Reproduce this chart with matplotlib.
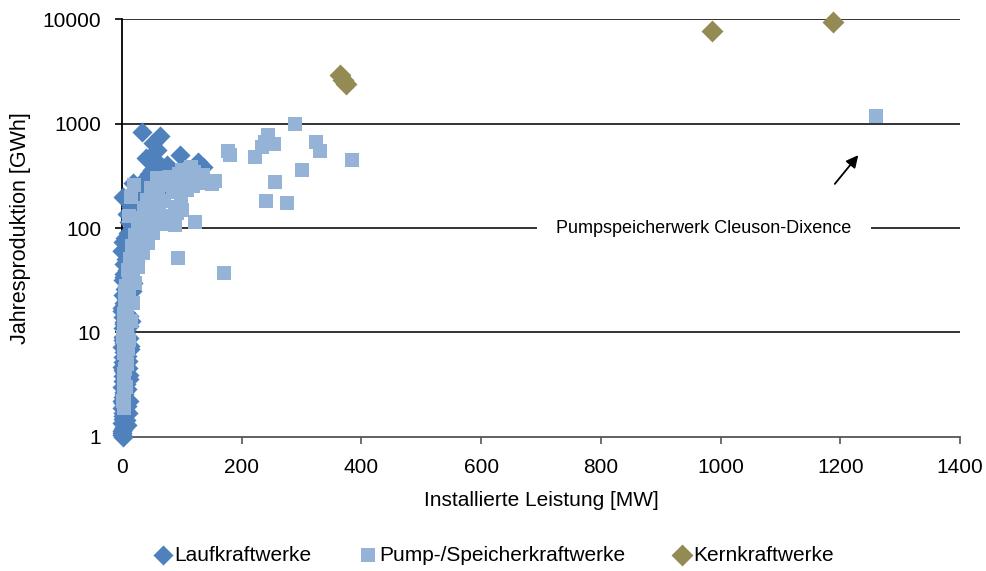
import matplotlib.pyplot as plt
from matplotlib.ticker import FixedLocator, FixedFormatter

plt.rcParams['font.family'] = ['Liberation Sans', 'DejaVu Sans']

# Laufkraftwerke (installed MW, annual GWh)
lauf_mw = [1, 0.5, 1.5, 0.8, 2, 1, 0.5, 2.5, 1.2, 3, 0.7, 2, 1, 3.5, 0.5, 2.5, 1.5, 4, 0.8, 3,
           1.8, 5, 1, 4, 2.5, 6, 0.5, 3.5, 7, 2, 5, 8, 1, 4, 9, 3, 6, 11, 0.5, 2,
           8, 14, 5, 10, 17, 12, 20, 8, 25, 15, 30, 2, 18, 22, 28, 35, 40, 45, 50, 55,
           60, 40, 52, 63, 33, 58, 97, 127, 135, 75, 85, 110, 70, 65, 90, 48, 38, 26, 32, 20,
           16, 12, 9, 7, 3, 1, 0.3, 6, 10, 13,
           0.2, 3, 6, 1.5, 4.5, 8, 0.3, 2.8, 7, 11, 1, 5, 9, 13, 2, 6.5, 12, 15, 0.4, 4,
           10, 16, 19, 3, 8, 14, 21, 6, 12, 24,
           9, 10, 11, 8, 12, 10, 9, 11, 7, 12]
lauf_gwh = [1.0, 1.1, 1.2, 1.35, 1.5, 1.7, 1.9, 2.1, 2.4, 2.7, 3.0, 3.4, 3.8, 4.2, 4.7, 5.2, 5.8, 6.5, 7.2, 8,
            9, 10, 11, 12.5, 14, 15.5, 17, 19, 21, 23, 26, 29, 32, 36, 40, 45, 50, 55, 60, 62,
            66, 72, 80, 90, 100, 115, 125, 135, 150, 160, 180, 198, 270, 230, 210, 250, 300, 330, 360, 310,
            420, 466, 650, 760, 830, 560, 500, 430, 380, 400, 350, 320, 280, 240, 260, 200, 170, 120, 95, 80,
            50, 38, 28, 18, 12, 73, 1.05, 2.3, 4.6, 7.5,
            1.15, 1.25, 1.45, 1.6, 1.8, 2.0, 2.2, 2.6, 3.2, 3.6, 4.4, 5, 6, 7, 8.5, 9.5, 11.5, 13, 16, 18,
            22, 25, 30, 34, 38, 43, 48, 56, 65, 85,
            1.3, 1.7, 2.2, 2.9, 3.9, 5.3, 6.8, 8.8, 10.5, 14.5]

# Pump-/Speicherkraftwerke
pump_mw = [3, 4, 5, 4, 6, 5, 7, 6, 8, 5, 9, 7, 11, 14, 10, 17, 13, 20, 24, 16,
           28, 22, 33, 26, 40, 30, 45, 36, 50, 42, 55, 60, 48, 65, 70, 58, 80, 75, 85, 90,
           95, 100, 105, 110, 115, 120, 125, 130, 140, 150, 155, 88, 92, 70, 62, 54, 46, 38, 30, 25,
           18, 12, 9, 3, 2, 8, 10, 12, 15, 20, 92, 88, 100, 122, 94, 170, 241, 276, 256, 301,
           384, 331, 324, 254, 244, 239, 234, 222, 181, 177, 289, 1260, 4, 6, 3, 5,
           2, 7, 3, 9, 4, 12, 6, 15, 8, 18, 11, 22, 14, 27, 35, 44, 52, 68, 78, 98,
           108, 118, 135]
pump_gwh = [1.9, 3.3, 4.5, 6.4, 5.5, 8, 11, 14, 17, 20, 24, 28, 32, 36, 40, 45, 50, 55, 62, 68,
            75, 85, 95, 105, 115, 125, 140, 155, 170, 185, 200, 220, 240, 260, 280, 300, 310, 270, 240, 220,
            330, 360, 300, 260, 380, 340, 300, 280, 270, 265, 280, 160, 140, 180, 150, 120, 100, 80, 60, 45,
            38, 26, 21, 12, 9, 9.5, 7, 130, 200, 260, 270, 106, 150, 113, 51.5, 37, 181, 174, 276, 359,
            447, 546, 665, 640, 777, 665, 600, 478, 500, 546, 990, 1170, 2.6, 10, 15, 25,
            2.2, 3, 4, 5, 7.5, 8.5, 12.5, 13, 16, 19, 22, 30, 34, 42, 58, 72, 90, 110, 130, 190,
            230, 250, 320]

# Kernkraftwerke
kern_mw = [364, 370, 375, 986, 1188]
kern_gwh = [2900, 2600, 2400, 7680, 9350]

c_lauf = '#4F81BD'
c_pump = '#95B3D7'
c_kern = '#948A54'

fig = plt.figure(figsize=(9.86, 5.71), dpi=100)
ax = fig.add_axes([0.1237, 0.2347, 0.8499, 0.732])

ax.scatter(lauf_mw, lauf_gwh, marker='D', s=105, color=c_lauf, linewidths=0,
           label='Laufkraftwerke', clip_on=False, zorder=3)
ax.scatter(pump_mw, pump_gwh, marker='s', s=100, color=c_pump, linewidths=0,
           label='Pump-/Speicherkraftwerke', clip_on=False, zorder=4)
ax.scatter(kern_mw, kern_gwh, marker='D', s=125, color=c_kern, linewidths=0,
           label='Kernkraftwerke', clip_on=False, zorder=5)

ax.set_yscale('log')
ax.set_xlim(0, 1400)
ax.set_ylim(1, 10000)
ax.set_xticks(range(0, 1401, 200))
ax.yaxis.set_major_locator(FixedLocator([1, 10, 100, 1000, 10000]))
ax.yaxis.set_major_formatter(FixedFormatter(['1', '10', '100', '1000', '10000']))
ax.yaxis.set_minor_locator(FixedLocator([]))

for v in [10, 100, 1000, 10000]:
    ax.axhline(v, color='#222222', lw=1.3, zorder=1)

for s in ['top', 'right']:
    ax.spines[s].set_visible(False)
ax.spines['left'].set_color('black')
ax.spines['left'].set_linewidth(1.3)
ax.spines['bottom'].set_color('#555555')
ax.spines['bottom'].set_linewidth(1.3)
ax.tick_params(axis='both', labelsize=15, length=5, width=1.2, direction='out')
ax.tick_params(axis='y', pad=10)
ax.tick_params(axis='x', pad=10, colors='#555555', labelcolor='black')

ax.set_xlabel('Installierte Leistung [MW]', fontsize=15, labelpad=10)
ax.set_ylabel('Jahresproduktion [GWh]', fontsize=15.5, labelpad=8)

ax.text(972, 100, 'Pumpspeicherwerk Cleuson-Dixence', fontsize=13, ha='center', va='center',
        bbox=dict(facecolor='white', edgecolor='none', pad=14), zorder=2)
ax.annotate('', xy=(1233, 522), xytext=(1188, 252),
            arrowprops=dict(arrowstyle='-|>', color='black', lw=1.3, mutation_scale=18), zorder=6)

fig.legend(loc='lower center', bbox_to_anchor=(0.5, 0.0), ncol=3, frameon=False,
           fontsize=15, handletextpad=0.05, columnspacing=2.2, handlelength=1.0,
           markerscale=1.0, borderaxespad=0.1, borderpad=0.2)

fig.savefig('out.png', dpi=100)
